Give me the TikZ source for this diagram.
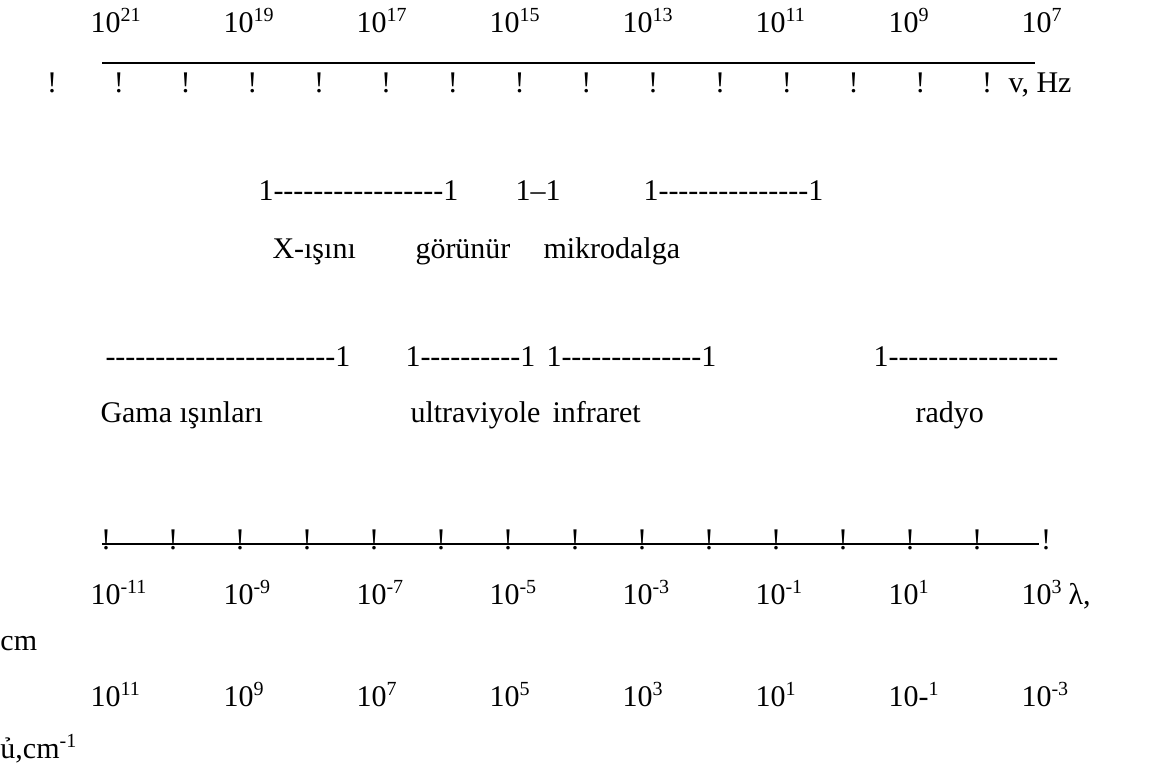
\documentclass[12pt,tikz,border=0pt]{standalone}
\usepackage{fontspec}
\setmainfont{Liberation Serif}[Ligatures=TeXOff]
\usetikzlibrary{positioning}
\tikzset{
  txt/.style={anchor=base west,inner sep=0pt,font=\fontsize{12}{14}\selectfont},
  bang/.style={anchor=base,inner sep=0pt,font=\fontsize{12}{14}\selectfont},
  axis/.style={line width=0.8pt},
}

\begin{document}
\begin{tikzpicture}[x=0.4pt,y=-0.4pt]
  \useasboundingbox (0,0) rectangle (1159,762);
  % frequency scale
  \foreach \e [count=\i from 0] in {21,19,17,15,13,11,9,7}
    \node[txt] (nu\i) at ({90+133*\i},32) {10\textsuperscript{\e}};
  \coordinate (ta) at (102,63);
  \coordinate (tb) at (1035,63);
  \draw[axis] (ta) -- (tb);
  \foreach \i in {0,...,14}
    \node[bang] (tn\i) at ({52+66.8*\i},92) {!};
  \node[txt] (vhz) at (1008,92) {v, Hz};

  % ranges, upper row
  \node[txt] (xbar) at (258,200) {1-----------------1};
  \node[txt] (vbar) at (515,200) {1–1};
  \node[txt] (mbar) at (643,200) {1---------------1};
  \node[txt] (xlbl) at (272,258) {X-ışını};
  \node[txt] (vlbl) at (415,258) {görünür};
  \node[txt] (mlbl) at (543,258) {mikrodalga};

  % ranges, lower row
  \node[txt] (gbar) at (105,366) {-----------------------1};
  \node[txt] (ubar) at (405,366) {1----------1};
  \node[txt] (ibar) at (546,366) {1--------------1};
  \node[txt] (rbar) at (873,366) {1-----------------};
  \node[txt] (glbl) at (100,422) {Gama ışınları};
  \node[txt] (ulbl) at (410,422) {ultraviyole};
  \node[txt] (ilbl) at (552,422) {infraret};
  \node[txt] (rlbl) at (915,422) {radyo};

  % wavelength scale
  \coordinate (ba) at (102,544);
  \coordinate (bb) at (1039,544);
  \draw[axis] (ba) -- (bb);
  \foreach \i in {0,...,13}
    \node[bang] (bn\i) at ({106+67*\i},549) {!};
  \node[bang] (bn14) at (1046,549) {!};
  \foreach \e [count=\i from 0] in {-11,-9,-7,-5,-3,-1,1,3}
    \node[txt] (la\i) at ({90+133*\i},604) {10\textsuperscript{\e}};
  \node[txt] (lam) at (1068,604) {λ,};
  \node[txt] (lcm) at (0,650) {cm};

  % wavenumber scale
  \foreach \e [count=\i from 0] in {11,9,7,5,3,1}
    \node[txt] (wn\i) at ({90+133*\i},706) {10\textsuperscript{\e}};
  \node[txt] (wn6) at (888,706) {10-\textsuperscript{1}};
  \node[txt] (wn7) at (1021,706) {10\textsuperscript{-3}};
  \node[txt] (wcm) at (0,758) {ủ,cm\textsuperscript{-1}};
\end{tikzpicture}
\end{document}
